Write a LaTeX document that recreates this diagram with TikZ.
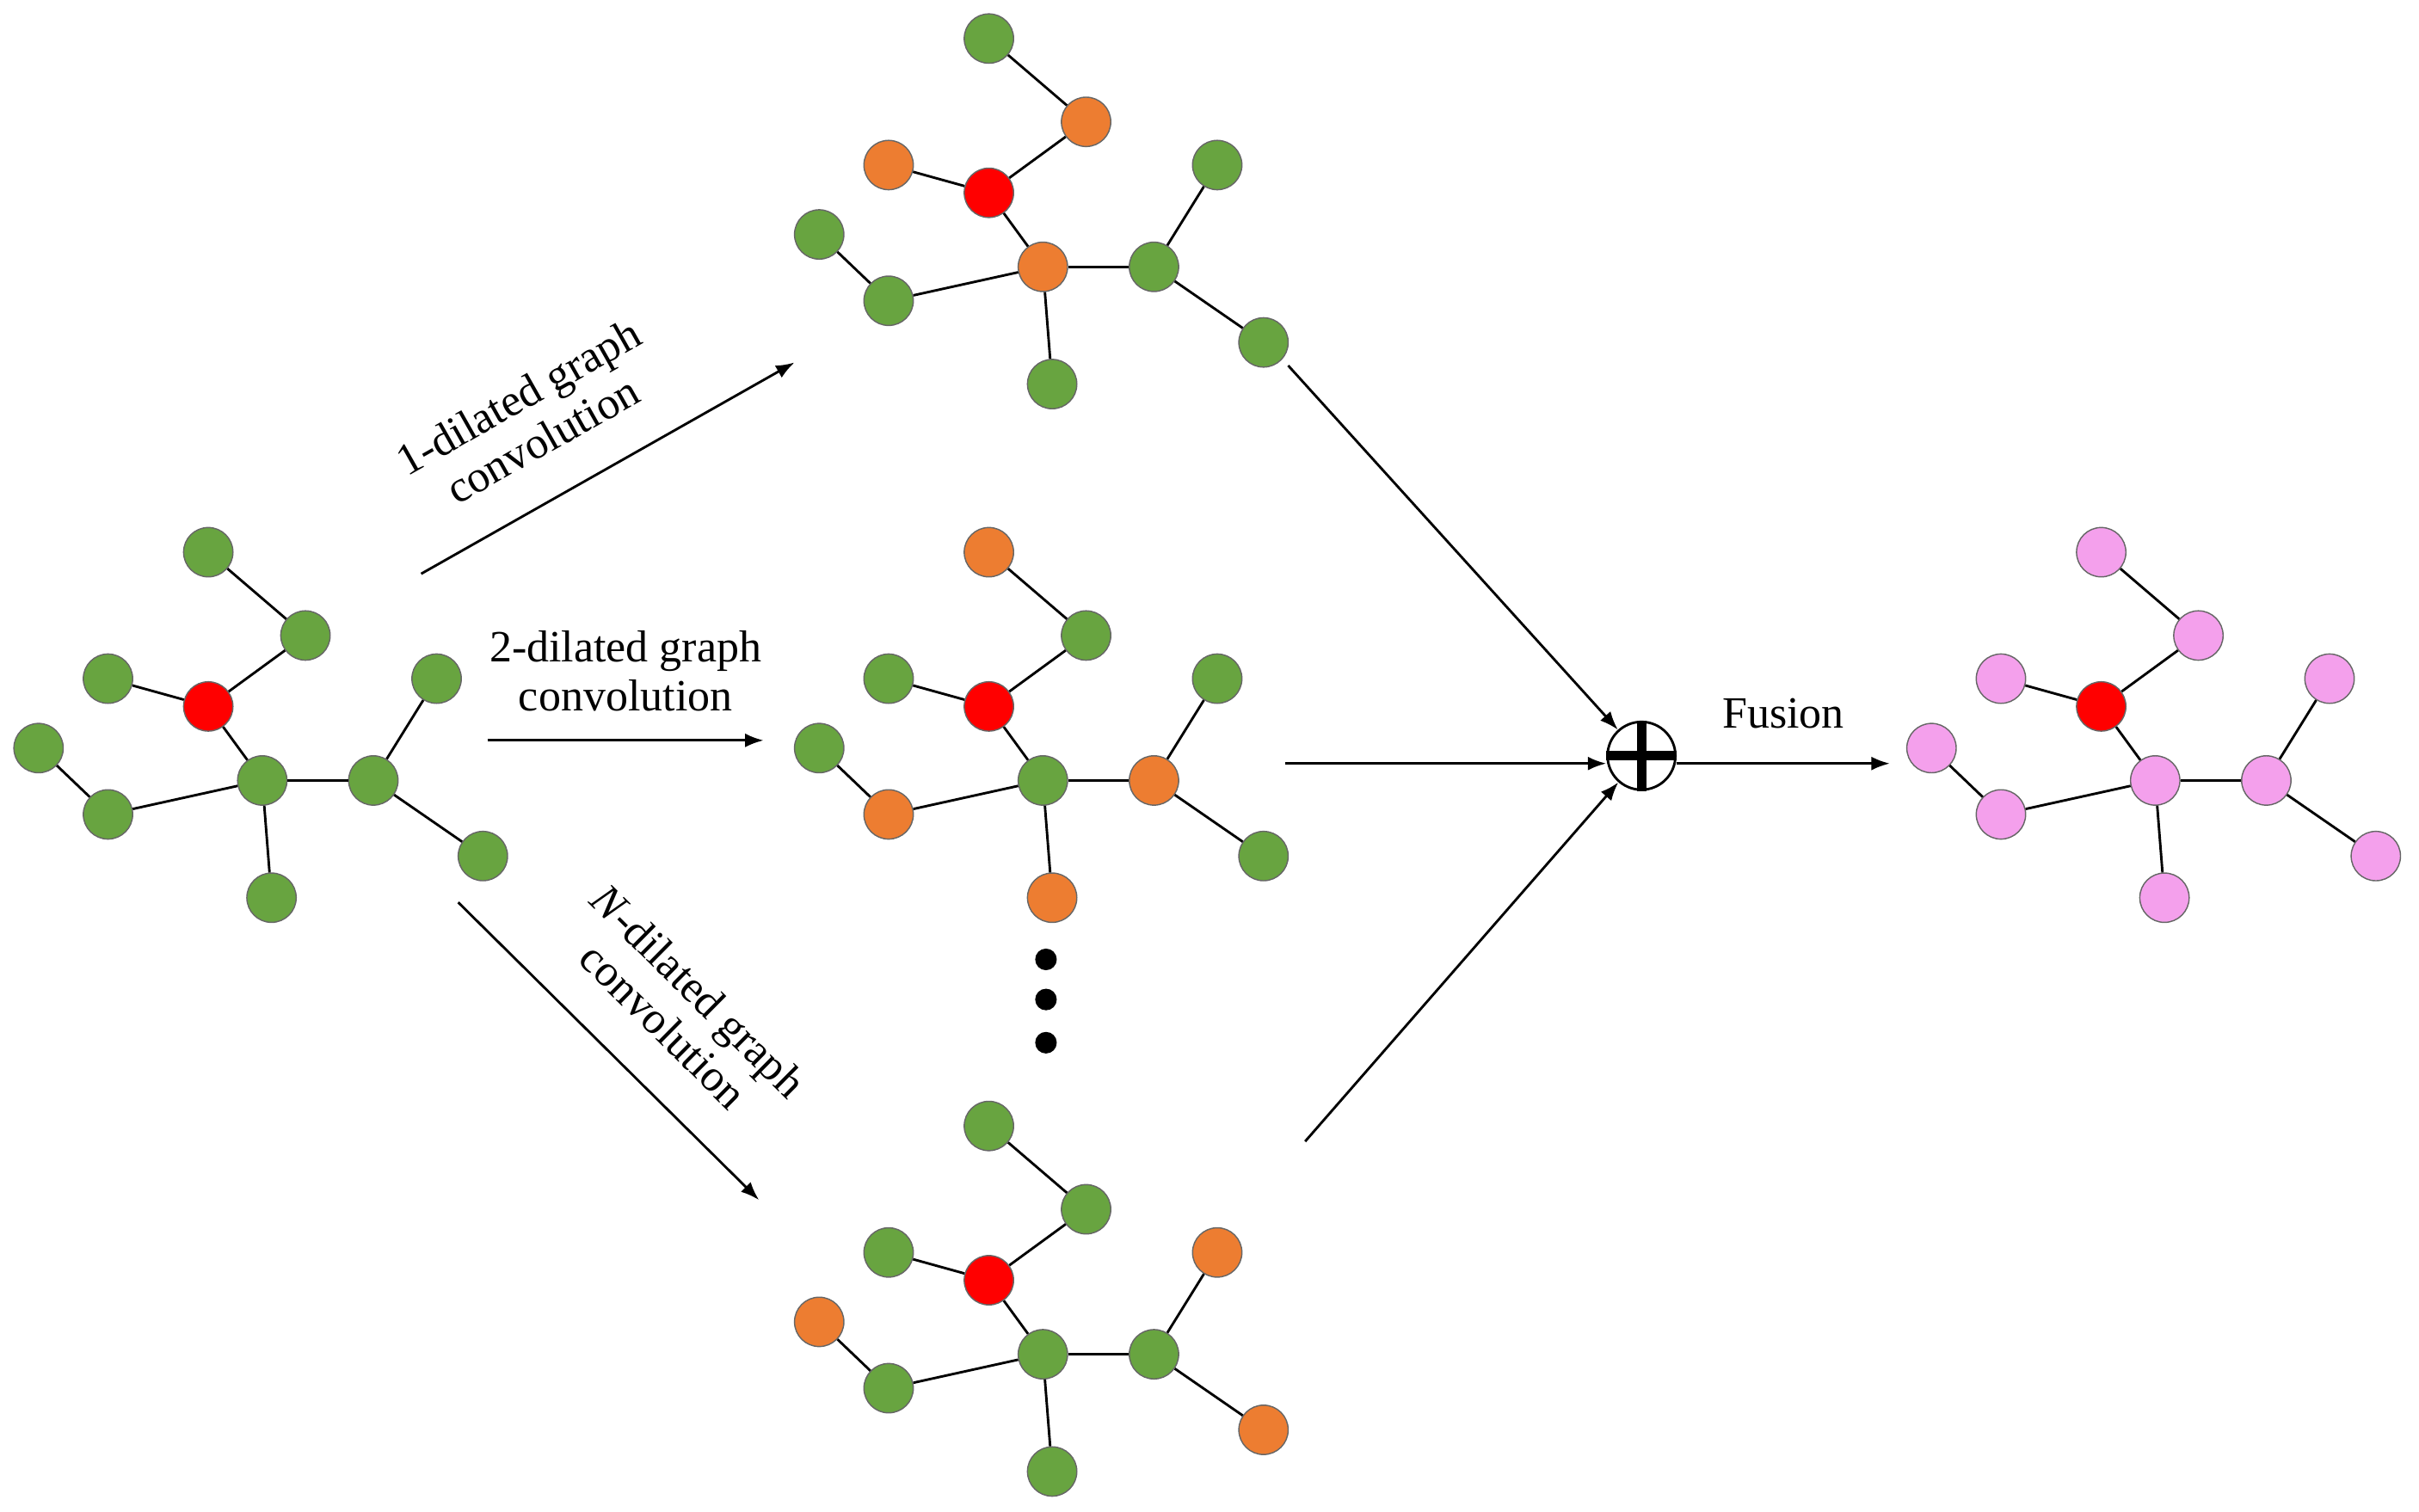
\documentclass[tikz,border=0pt]{standalone}
\usepackage{fontspec}
\setmainfont{Liberation Serif}
\usetikzlibrary{arrows.meta}
\begin{document}
\definecolor{gg}{RGB}{104,164,64}
\definecolor{oo}{RGB}{237,125,49}
\definecolor{pp}{RGB}{244,160,236}
\begin{tikzpicture}[x=0.5pt,y=-0.5pt,
 nd/.style={circle,draw=black!60,line width=0.4pt,minimum size=16pt,inner sep=0pt},
 G/.style={nd,fill=gg},
 O/.style={nd,fill=oo},
 R/.style={nd,fill=red},
 P/.style={nd,fill=pp},
 ed/.style={line width=0.8pt},
 ar/.style={-{Latex[length=6pt,width=4.5pt]},line width=0.8pt},
 lb/.style={font=\fontsize{14.5}{16}\selectfont,align=center,inner sep=1pt},
 Tb/.style={O},Tc/.style={O},Tf/.style={O},
 Ma/.style={O},Me/.style={O},Mg/.style={O},Mj/.style={O},
 Bd/.style={O},Bh/.style={O},Bi/.style={O}]
\useasboundingbox (0,0) rectangle (1568,980);
\newcommand{\mygraph}[4]{%
 \begin{scope}[shift={(#2,#3)}]
 \foreach \n/\x/\y in {a/135/358,b/198/412,c/70/440,d/25/485,e/70/528,f/170/506,g/242/506,h/283/440,i/313/555,j/176/582}{
   \node[#4,#1\n/.try] (#1\n) at (\x,\y) {};}
 \node[R] (#1r) at (135,458) {};
 \end{scope}
 \foreach \u/\v in {a/b,b/r,c/r,r/f,d/e,e/f,f/g,f/j,g/h,g/i}{\draw[ed] (#1\u) -- (#1\v);}}
\mygraph{L}{0}{0}{G}
\mygraph{T}{506}{-333}{G}
\mygraph{M}{506}{0}{G}
\mygraph{B}{506}{372}{G}
\mygraph{P}{1227}{0}{P}
% dots
\foreach \k/\y in {1/622,2/648,3/676}{\node[circle,fill=black,inner sep=0pt,minimum size=7pt] (dot\k) at (678,\y) {};}
% oplus
\node[circle,draw,line width=0.8pt,minimum size=22pt,inner sep=0pt] (sum) at (1064,490) {};
\draw[line width=3pt] (sum.north) -- (sum.south) (sum.west) -- (sum.east);
\coordinate (s1) at (835,237);
\coordinate (s2) at (833,495);
\coordinate (s3) at (846,740);
\coordinate (f1) at (1225,495);
\draw[ar] (s1) -- (sum);
\draw[ar] (s2) -- (sum.west |- s2);
\draw[ar] (s3) -- (sum);
\draw[ar] (sum.east |- f1) -- node[lb,above=10pt]{Fusion} (f1);
% left arrows
\coordinate (a1s) at (273,372); \coordinate (a1e) at (515,235);
\coordinate (a2s) at (316,480); \coordinate (a2e) at (495,480);
\coordinate (a3s) at (297,585); \coordinate (a3e) at (492,778);
\draw[ar] (a1s) -- node[lb,sloped,above=12pt,pos=0.4]{1-dilated graph\\convolution} (a1e);
\draw[ar] (a2s) -- node[lb,above=8pt]{2-dilated graph\\convolution} (a2e);
\draw[ar] (a3s) -- node[lb,sloped,above=12pt,pos=0.55]{\textit{N}-dilated graph\\convolution} (a3e);
\end{tikzpicture}
\end{document}
